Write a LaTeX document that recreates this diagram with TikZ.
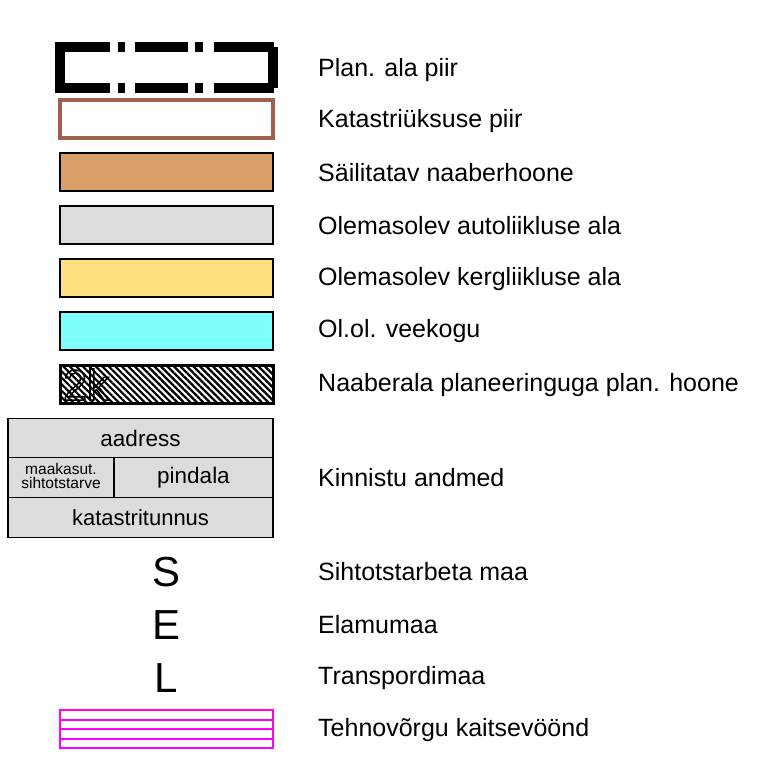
\documentclass[tikz,border=0pt]{standalone}
\usepackage{fontspec}
\setmainfont{Liberation Sans}
\usetikzlibrary{patterns.meta}

\definecolor{piirpruun}{RGB}{160,96,76}
\definecolor{hoonevarv}{RGB}{217,160,106}
\definecolor{autohall}{RGB}{220,220,220}
\definecolor{kergkollane}{RGB}{255,223,128}
\definecolor{veesinine}{RGB}{128,255,255}
\definecolor{tehnoroosa}{RGB}{255,0,255}

\begin{document}
\begin{tikzpicture}[x=1pt,y=-1pt,
  swatch/.style={draw=black,line width=1.2pt,minimum width=213pt,minimum height=38pt,inner sep=0pt,outer sep=0pt},
  cell/.style={draw=black,line width=1.2pt,fill=autohall,inner sep=0pt,outer sep=0pt,minimum height=39.7pt},
  lbl/.style={anchor=west,inner sep=0pt,font=\fontsize{25}{29}\selectfont},
  lutt/.style={font=\fontsize{42}{46}\selectfont,inner sep=0pt},
  plaan/.style={line width=10pt,black}]
\useasboundingbox (0,0) rectangle (763,765);

% plan. ala piir (thick dash-dot frame)
\node[minimum width=213pt,minimum height=41pt,inner sep=0pt] (planbox) at (166.5,67.5) {};
\draw[plaan,dash pattern=on 55pt off 8pt on 7pt off 10pt on 53pt off 7pt on 8pt off 11pt on 60pt]
  ([xshift=-5pt]planbox.north west) -- ([xshift=5pt]planbox.north east);
\draw[plaan,dash pattern=on 55pt off 8pt on 7pt off 10pt on 53pt off 7pt on 8pt off 11pt on 60pt]
  ([xshift=-5pt]planbox.south west) -- ([xshift=5pt]planbox.south east);
\draw[plaan] (planbox.north west) -- (planbox.south west);
\draw[plaan] (planbox.north east) -- (planbox.south east);

% the plain colour swatches
\node[swatch,draw=piirpruun,line width=4pt] (katastrbox) at (166.5,119) {};
\node[swatch,fill=hoonevarv] (hoonebox) at (166.5,172) {};
\node[swatch,fill=autohall] (autobox) at (166.5,225) {};
\node[swatch,fill=kergkollane] (kergbox) at (166.5,278) {};
\node[swatch,fill=veesinine] (veebox) at (166.5,331) {};

% hatched building with number
\node[swatch,line width=3pt,pattern={Lines[angle=-45,distance=4.6pt,line width=2.2pt]}] (hoone2k) at (166.5,384.5) {};
\node[anchor=west,inner sep=0pt,font=\fontsize{43}{46}\selectfont] (nr2k) at ([xshift=3pt]hoone2k.west)
  {\special{pdf:code 1 Tr 1.5 w}2k\special{pdf:code 0 Tr}};

% kinnistu andmed table
\node[cell,minimum width=265pt] (aadress) at (140.5,438) {\fontsize{22.5}{26}\selectfont aadress};
\node[cell,minimum width=106pt,anchor=north west] (sihtotstarve) at (aadress.south west)
  {\fontsize{15.5}{13}\selectfont\begin{tabular}{@{}c@{}}maakasut.\\[-1pt]sihtotstarve\end{tabular}};
\node[cell,minimum width=159pt,anchor=north east] (pindala) at (aadress.south east) {\fontsize{22.5}{26}\selectfont pindala};
\node[cell,minimum width=265pt,anchor=north west] (katastritunnus) at (sihtotstarve.south west)
  {\fontsize{22}{26}\selectfont katastritunnus};

% land use letters
\node[lutt] (tahtS) at (166.5,572) {S};
\node[lutt] (tahtE) at (166.5,625) {E};
\node[lutt] (tahtL) at (166.5,678) {L};

% tehnovorgu kaitsevoond
\node[swatch,draw=tehnoroosa,line width=2pt,minimum height=38pt] (tehnobox) at (166.5,729) {};
\foreach \k in {1,2,3}
  \draw[tehnoroosa,line width=2pt] ([yshift=-\k*9.5pt]tehnobox.north west) -- ([yshift=-\k*9.5pt]tehnobox.north east);

% legend texts
\node[lbl] (txtplan) at (318,70) {Plan. ala piir};
\node[lbl] (txtkatastr) at (318,121) {Katastriüksuse piir};
\node[lbl] (txthoone) at (318,173) {Säilitatav naaberhoone};
\node[lbl] (txtauto) at (318,226) {Olemasolev autoliikluse ala};
\node[lbl] (txtkerg) at (318,279) {Olemasolev kergliikluse ala};
\node[lbl] (txtvesi) at (318,331) {Ol.ol. veekogu};
\node[lbl] (txtnaaber) at (318,385) {Naaberala planeeringuga plan. hoone};
\node[lbl] (txtkinnistu) at (318,478) {Kinnistu andmed};
\node[lbl] (txtS) at (318,572) {Sihtotstarbeta maa};
\node[lbl] (txtE) at (318,625) {Elamumaa};
\node[lbl] (txtL) at (318,678) {Transpordimaa};
\node[lbl] (txttehno) at (318,730) {Tehnovõrgu kaitsevöönd};
\end{tikzpicture}
\end{document}
